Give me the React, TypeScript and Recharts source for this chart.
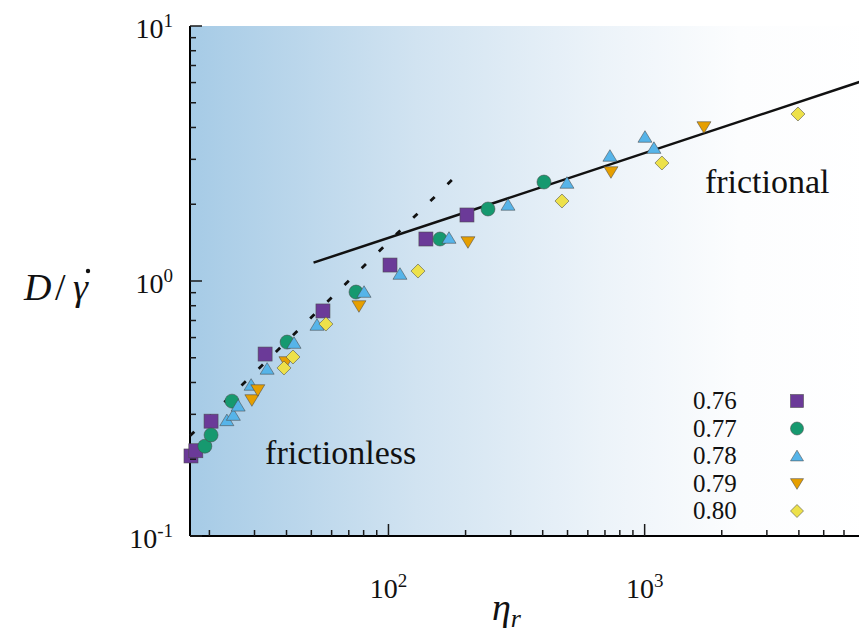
import React from 'react';
import {
  ComposedChart,
  Scatter,
  XAxis,
  YAxis,
  Legend,
  Label,
  ReferenceDot
} from 'recharts';

const SERIF = '"Liberation Serif", "Times New Roman", serif';

// volume fractions, colours and marker kinds
const SERIES_NAMES = ['0.76', '0.77', '0.78', '0.79', '0.80'];
const SERIES_COLORS = ['#6b3a98', '#16996f', '#56b4e9', '#e69f00', '#ede14a'];
const SERIES_SHAPES = ['square', 'circle', 'up', 'down', 'diamond'];

// eta_r and D/gamma-dot
const ETA_076 = [16.95, 17.7, 20.3, 33.0, 55.5, 101.4, 140, 202.5];
const D_076 = [0.206, 0.216, 0.282, 0.517, 0.763, 1.155, 1.461, 1.815];

const ETA_077 = [19.2, 20.3, 24.5, 40.2, 74.7, 158.9, 244.6, 404.6];
const D_077 = [0.225, 0.249, 0.338, 0.576, 0.905, 1.461, 1.916, 2.444];

const ETA_078 = [23.4, 24.8, 25.9, 29.1, 33.6, 42.8, 52.6, 80.3, 110.9, 172.3, 292.8, 497.5, 732, 1003, 1087];
const D_078 = [0.284, 0.298, 0.324, 0.391, 0.452, 0.571, 0.672, 0.905, 1.065, 1.474, 1.987, 2.423, 3.092, 3.67, 3.32];

const ETA_079 = [29.3, 30.9, 39.8, 76.7, 204.3, 738.7, 1704];
const D_079 = [0.3415, 0.3737, 0.4813, 0.798, 1.422, 2.676, 4.018];

const ETA_080 = [39.1, 42.4, 57.0, 130.4, 475.6, 1168, 3967];
const D_080 = [0.456, 0.5035, 0.678, 1.094, 2.059, 2.902, 4.517];

const SERIES_ETA = [ETA_076, ETA_077, ETA_078, ETA_079, ETA_080];
const SERIES_D = [D_076, D_077, D_078, D_079, D_080];

// guide lines (end points)
const FRICTIONLESS_ETA = [16.8, 198];
const FRICTIONLESS_D = [0.247, 2.78];
const FRICTIONAL_ETA = [51, 8000];
const FRICTIONAL_D = [1.18, 6.34];

// axes
const X_DOMAIN = [16.8, 8000];
const Y_DOMAIN = [0.1, 10];
const X_MAJOR = [100, 1000];
const X_MAJOR_EXP = ['2', '3'];
const X_MINOR = [20, 30, 40, 50, 60, 70, 80, 90, 200, 300, 400, 500, 600, 700, 800, 900, 2000, 3000, 4000, 5000, 6000, 7000];
const Y_MAJOR = [0.1, 1, 10];
const Y_MAJOR_EXP = ['-1', '0', '1'];
const Y_MINOR = [0.2, 0.3, 0.4, 0.5, 0.6, 0.7, 0.8, 0.9, 2, 3, 4, 5, 6, 7, 8, 9];

const X_TICKS = [...X_MINOR, ...X_MAJOR].sort((a, b) => a - b);
const Y_TICKS = [...Y_MINOR, ...Y_MAJOR].sort((a, b) => a - b);

const MINOR_LEN = 6;
const MAJOR_LEN = 12;
const TICK_COLOR = '#1a1a1a';

const toPoints = (xs: number[], ys: number[]) => xs.map((x, i) => ({ x, y: ys[i] }));

const Marker = ({ cx, cy, kind, color, size = 14 }: any) => {
  if (cx == null || cy == null) return <g />;
  const s = size / 2;
  const common = { fill: color, stroke: '#4a4a4a', strokeWidth: 0.7, strokeOpacity: 0.8 };
  switch (kind) {
    case 'square':
      return <rect x={cx - s} y={cy - s} width={size} height={size} {...common} />;
    case 'circle':
      return <circle cx={cx} cy={cy} r={s} {...common} />;
    case 'up':
      return <polygon points={`${cx},${cy - s * 0.9} ${cx - s},${cy + s * 0.75} ${cx + s},${cy + s * 0.75}`} {...common} />;
    case 'down':
      return <polygon points={`${cx},${cy + s * 0.9} ${cx - s},${cy - s * 0.75} ${cx + s},${cy - s * 0.75}`} {...common} />;
    default:
      return <polygon points={`${cx},${cy - s} ${cx + s},${cy} ${cx},${cy + s} ${cx - s},${cy}`} {...common} />;
  }
};

// inward ticks, drawn from the axis line; majors are longer and carry 10^n
const XTick = (props: any) => {
  const { x, y, payload, side } = props;
  const mi = X_MAJOR.indexOf(payload.value);
  const top = side === 'top';
  const len = mi >= 0 ? MAJOR_LEN : MINOR_LEN;
  const dir = top ? 1 : -1;
  return (
    <g>
      <line x1={x} x2={x} y1={y} y2={y + dir * len} stroke={TICK_COLOR} strokeWidth={1.5} />
      {!top && mi >= 0 && (
        <text x={x} y={y + 62} textAnchor="middle" fontFamily={SERIF} fontSize={28} fill="#111">
          10<tspan dy={-11} fontSize={19}>{X_MAJOR_EXP[mi]}</tspan>
        </text>
      )}
    </g>
  );
};

const YTick = (props: any) => {
  const { x, y, payload } = props;
  const mi = Y_MAJOR.indexOf(payload.value);
  const len = mi >= 0 ? MAJOR_LEN : MINOR_LEN;
  return (
    <g>
      <line x1={x} x2={x + len} y1={y} y2={y} stroke={TICK_COLOR} strokeWidth={1.5} />
      {mi >= 0 && (
        <text x={x - 17} y={y + 12} textAnchor="end" fontFamily={SERIF} fontSize={28} fill="#111">
          10<tspan dy={-11} fontSize={19}>{Y_MAJOR_EXP[mi]}</tspan>
        </text>
      )}
    </g>
  );
};

const YTitle = (props: any) => {
  const vb = props.viewBox;
  const base = vb.y + vb.height / 2 + 19;
  return (
    <g>
      <text y={base} fontFamily={SERIF} fontSize={38} fill="#111">
        <tspan x={vb.x + 24} fontStyle="italic">D</tspan>
        <tspan x={vb.x + 55}>/</tspan>
        <tspan x={vb.x + 73} fontStyle="italic">{'\u03B3'}</tspan>
      </text>
      <circle cx={vb.x + 88} cy={base - 29} r={2.2} fill="#111" />
    </g>
  );
};

const XTitle = (props: any) => {
  const vb = props.viewBox;
  return (
    <text x={vb.x + 302} y={vb.y + 84} fontFamily={SERIF} fontSize={38} fontStyle="italic" fill="#111">
      {'\u03B7'}
      <tspan dy={7} fontSize={26}>r</tspan>
    </text>
  );
};

const AnnoText = (props: any) => {
  const vb = props.viewBox || {};
  return (
    <text x={vb.x} y={vb.y} fontFamily={SERIF} fontSize={34} fill="#111">
      {props.text}
    </text>
  );
};

const LegendBox = () => (
  <svg width={150} height={140}>
    {SERIES_NAMES.map((n, i) => (
      <g key={n}>
        <text x={13} y={24 + i * 27.5} fontFamily={SERIF} fontSize={25} fill="#111">
          {n}
        </text>
        <Marker cx={117} cy={16 + i * 27.5} kind={SERIES_SHAPES[i]} color={SERIES_COLORS[i]} size={13} />
      </g>
    ))}
  </svg>
);

const axisLine = { stroke: '#000', strokeWidth: 2 };

export default function App() {
  return (
    <div style={{ position: 'absolute', left: 0, top: 0, width: 859, height: 632, overflow: 'hidden', background: '#fff' }}>
      {/* shaded plot background, sits behind the transparent chart svg */}
      <div
        style={{
          position: 'absolute',
          left: 190,
          top: 26,
          width: 686,
          height: 510,
          background: 'linear-gradient(to right, #a6cbe6 0%, #d1e3f1 33%, #ecf3f9 60%, #fcfdfe 80%, #ffffff 100%)'
        }}
      />
      <div style={{ position: 'absolute', left: 0, top: 0 }}>
        <ComposedChart width={900} height={632} margin={{ top: 26, right: 24, bottom: 0, left: 0 }}>
          <XAxis
            type="number"
            dataKey="x"
            scale="log"
            domain={X_DOMAIN}
            ticks={X_TICKS}
            interval={0}
            height={96}
            tickSize={0}
            tickMargin={0}
            tickLine={false}
            axisLine={axisLine}
            tick={(p: any) => <XTick {...p} side="bottom" />}
          >
            <Label content={<XTitle />} />
          </XAxis>
          <XAxis
            xAxisId="top"
            orientation="top"
            type="number"
            dataKey="x"
            scale="log"
            domain={X_DOMAIN}
            ticks={X_TICKS}
            interval={0}
            height={0}
            tickSize={0}
            tickMargin={0}
            tickLine={false}
            axisLine={axisLine}
            tick={(p: any) => <XTick {...p} side="top" />}
          />
          <YAxis
            type="number"
            dataKey="y"
            scale="log"
            domain={Y_DOMAIN}
            ticks={Y_TICKS}
            interval={0}
            width={190}
            tickSize={0}
            tickMargin={0}
            tickLine={false}
            axisLine={axisLine}
            tick={(p: any) => <YTick {...p} />}
          >
            <Label content={<YTitle />} />
          </YAxis>
          <Scatter
            data={toPoints(FRICTIONLESS_ETA, FRICTIONLESS_D)}
            line={{ stroke: '#111', strokeWidth: 2.8, strokeDasharray: '6 18' }}
            shape={() => <g />}
            legendType="none"
            isAnimationActive={false}
          />
          <Scatter
            data={toPoints(FRICTIONAL_ETA, FRICTIONAL_D)}
            line={{ stroke: '#111', strokeWidth: 2.5 }}
            shape={() => <g />}
            legendType="none"
            isAnimationActive={false}
          />
          {SERIES_NAMES.map((name, i) => (
            <Scatter
              key={name}
              name={name}
              data={toPoints(SERIES_ETA[i], SERIES_D[i])}
              shape={(p: any) => <Marker cx={p.cx} cy={p.cy} kind={SERIES_SHAPES[i]} color={SERIES_COLORS[i]} />}
              isAnimationActive={false}
            />
          ))}
          <ReferenceDot x={33} y={0.1916} r={0} fill="none" stroke="none" label={<AnnoText text="frictionless" />} />
          <ReferenceDot x={1719} y={2.213} r={0} fill="none" stroke="none" label={<AnnoText text="frictional" />} />
          <Legend
            layout="vertical"
            align="center"
            verticalAlign="middle"
            wrapperStyle={{ left: 680, top: 385, width: 150, height: 140 }}
            content={() => <LegendBox />}
          />
        </ComposedChart>
      </div>
    </div>
  );
}
